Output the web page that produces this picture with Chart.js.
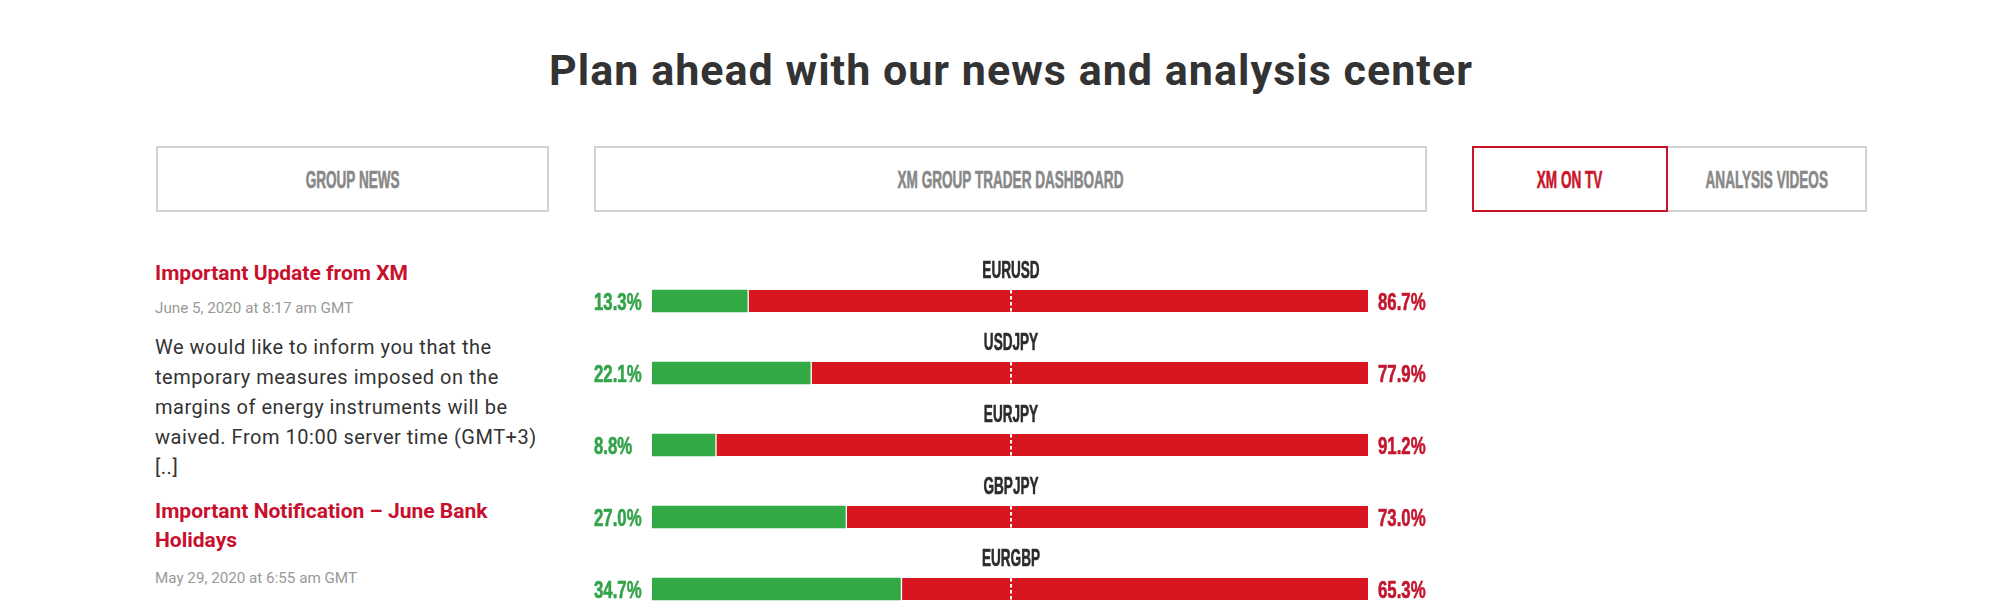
<!DOCTYPE html>
<html><head><meta charset="utf-8">
<script src="https://cdn.jsdelivr.net/npm/chart.js@4"></script>
<style>
html,body{margin:0;padding:0;background:#fff;width:1990px;height:606px;overflow:hidden;font-family:Roboto,sans-serif}
.abs{position:absolute;white-space:nowrap}
h1{position:absolute;left:16px;width:1990px;top:42px;margin:0;text-align:center;font:700 43px/56px Roboto,sans-serif;color:#333;letter-spacing:1.03px}
.tab{position:absolute;top:146px;height:62px;border:2px solid #d2d2d2;display:flex;align-items:center;justify-content:center;box-sizing:content-box;color:#888;background:#fff}
.tab span{display:inline-block;font:700 23px "Liberation Sans",sans-serif;transform:scaleX(.59);white-space:nowrap;-webkit-text-stroke:.6px currentColor;padding-top:3px}
.tab.on{border-color:#c8152a;color:#c8152a;z-index:2}
.h{font:700 21px/30px Roboto,sans-serif;color:#c8102e}
.d{font:400 15.2px/20px Roboto,sans-serif;color:#999}
.b{font:400 20px/30px Roboto,sans-serif;color:#333;letter-spacing:.52px}
#wrap{position:absolute;left:580px;top:240px;width:860px;height:400px}
</style></head><body>
<h1>Plan ahead with our news and analysis center</h1>
<div class="tab" style="left:156px;width:389px"><span>GROUP NEWS</span></div>
<div class="tab" style="left:594px;width:829px"><span>XM GROUP TRADER DASHBOARD</span></div>
<div class="tab on" style="left:1472px;width:192px"><span>XM ON TV</span></div>
<div class="tab" style="left:1666px;width:197px"><span>ANALYSIS VIDEOS</span></div>

<div class="abs h" style="left:155px;top:258px">Important Update from XM</div>
<div class="abs d" style="left:155px;top:298px">June 5, 2020 at 8:17 am GMT</div>
<div class="abs b" style="left:155px;top:332px">We would like to inform you that the</div>
<div class="abs b" style="left:155px;top:362px">temporary measures imposed on the</div>
<div class="abs b" style="left:155px;top:392px">margins of energy instruments will be</div>
<div class="abs b" style="left:155px;top:422px">waived. From 10:00 server time (GMT+3)</div>
<div class="abs b" style="left:155px;top:452px">[..]</div>
<div class="abs h" style="left:155px;top:496px">Important Notification – June Bank</div>
<div class="abs h" style="left:155px;top:525px">Holidays</div>
<div class="abs d" style="left:155px;top:568px">May 29, 2020 at 6:55 am GMT</div>

<div id="wrap"><canvas id="c"></canvas></div>
<script>
const pairs = ["EURUSD","USDJPY","EURJPY","GBPJPY","EURGBP"];
const longPct = [13.3,22.1,8.8,27.0,34.7];
const shortPct = [86.7,77.9,91.2,73.0,65.3];
const GREEN="#33a945", RED="#d81621", LBL_GREEN="#33a34a", LBL_RED="#c3172f", DARK="#2b2b2b";

function narrowText(ctx,txt,x,y,align,font,color,sx){
  ctx.save();
  ctx.font=font;ctx.fillStyle=color;ctx.strokeStyle=color;ctx.lineWidth=.6;ctx.textAlign=align;ctx.textBaseline="alphabetic";
  ctx.translate(x,y);ctx.scale(sx,1);ctx.fillText(txt,0,0);ctx.strokeText(txt,0,0);
  ctx.restore();
}
const overlay={
  id:"overlay",
  afterDatasetsDraw(chart){
    const {ctx,scales:{x,y}}=chart;
    const mid=x.getPixelForValue(50)+1;
    const barH=22;
    const f='700 23px "Liberation Sans", sans-serif';
    pairs.forEach((p,i)=>{
      const cy=y.getPixelForValue(i);
      ctx.save();
      ctx.strokeStyle="#fff";ctx.lineWidth=2;ctx.setLineDash([3.5,2.5]);
      ctx.beginPath();ctx.moveTo(mid,cy-barH/2);ctx.lineTo(mid,cy+barH/2);ctx.stroke();
      ctx.restore();
      narrowText(ctx,p,mid,cy-23.5,"center",f,DARK,.59);
      narrowText(ctx,longPct[i].toFixed(1)+"%",x.left-58,cy+9,"left",f,LBL_GREEN,.73);
      narrowText(ctx,shortPct[i].toFixed(1)+"%",x.right+10,cy+9,"left",f,LBL_RED,.73);
    });
  }
};
new Chart(document.getElementById("c"),{
  type:"bar",
  data:{labels:pairs,datasets:[
    {label:"Long",data:longPct,backgroundColor:GREEN,borderWidth:0,barThickness:22,stack:"s"},
    {label:"Short",data:shortPct,backgroundColor:RED,borderColor:"#fff",borderWidth:{left:2},borderSkipped:false,barThickness:22,stack:"s"}
  ]},
  options:{
    indexAxis:"y",responsive:true,maintainAspectRatio:false,animation:false,
    layout:{padding:{left:72,right:72,top:25,bottom:15}},
    plugins:{legend:{display:false},title:{display:false},tooltip:{enabled:false}},
    scales:{
      x:{display:false,stacked:true,min:0,max:100},
      y:{display:false,stacked:true}
    }
  },
  plugins:[overlay]
});
</script>
</body></html>
